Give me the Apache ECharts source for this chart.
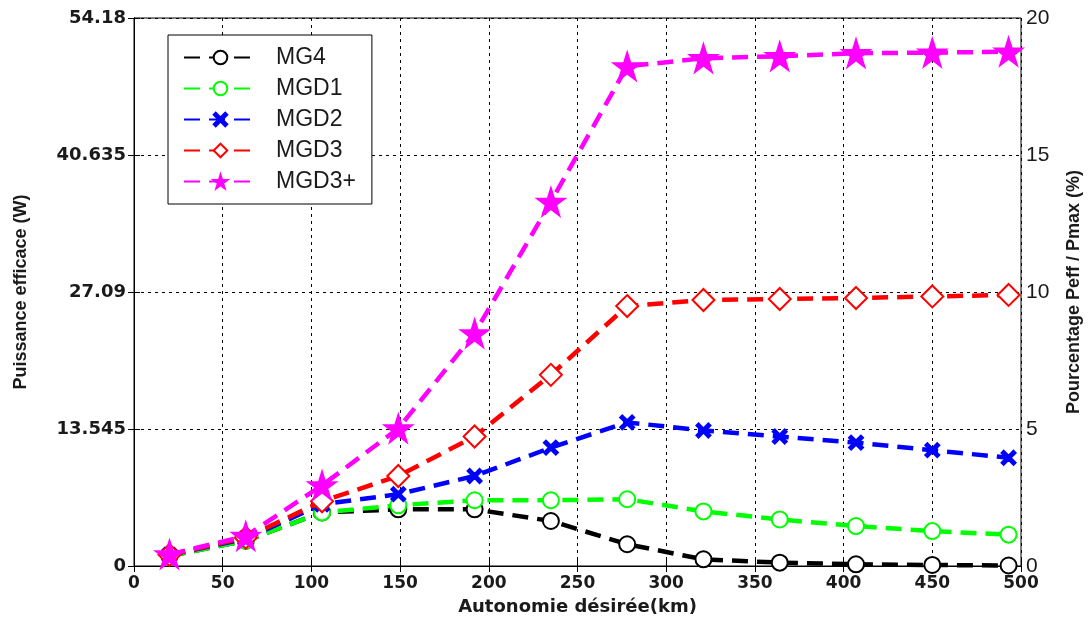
<!DOCTYPE html>
<html>
<head>
<meta charset="utf-8">
<script src="https://cdn.jsdelivr.net/npm/echarts@6/dist/echarts.min.js"></script>
<style>
html,body{margin:0;padding:0;background:#fff;}
#chart{width:1091px;height:621px;}
</style>
</head>
<body>
<div id="chart"></div>
<script>
// ---- data ----
var distances = [20, 63, 106, 149, 192, 235, 278, 321, 364, 407, 450, 493];
var MG4   = [1.0, 2.5, 5.3, 5.6, 5.6, 4.45, 2.15, 0.66, 0.33, 0.17, 0.1, 0.05];
var MGD1  = [1.0, 2.5, 5.3, 6.0, 6.5, 6.5, 6.6, 5.4, 4.6, 3.95, 3.45, 3.1];
var MGD2  = [1.1, 2.7, 6.1, 7.1, 8.9, 11.7, 14.2, 13.4, 12.8, 12.2, 11.45, 10.7];
var MGD3  = [1.1, 2.8, 6.4, 8.9, 12.8, 18.9, 25.7, 26.3, 26.4, 26.5, 26.65, 26.8];
var MGD3p = [1.15, 2.96, 7.97, 13.6, 23.0, 36.0, 49.4, 50.2, 50.4, 50.7, 50.75, 50.85];
var seriesNames = ['MG4', 'MGD1', 'MGD2', 'MGD3', 'MGD3+'];
var leftTickLabels = ['0', '13.545', '27.09', '40.635', '54.18'];
var rightTickLabels = ['0', '5', '10', '15', '20'];
var xTickLabels = ['0','50','100','150','200','250','300','350','400','450','500'];

// ---- chart ----
function pairs(arr){ return arr.map(function(v,i){ return [distances[i], v]; }); }
var star = 'path://M0,-10 L2.245,-3.09 L9.51,-3.09 L3.633,1.18 L5.878,8.09 L0,3.82 L-5.878,8.09 L-3.633,1.18 L-9.51,-3.09 L-2.245,-3.09 Z';
var cross = 'path://M1.5,0 L5,3.5 L8.5,0 L10,1.5 L6.5,5 L10,8.5 L8.5,10 L5,6.5 L1.5,10 L0,8.5 L3.5,5 L0,1.5 Z';
var dash = [16, 9];
var font = 'Liberation Sans, Arial, sans-serif';
var wideFont = 'DejaVu Sans, sans-serif';
var txt = '#1a1a1a';
var gridLine = {show:true, lineStyle:{color:'#000', type:[3,4], width:1}};

var chart = echarts.init(document.getElementById('chart'), null, {renderer:'canvas'});
function mk(name, data, color, symbol, size, bw){
  return {
    name: name, type:'line', data: pairs(data), xAxisIndex:0, yAxisIndex:0,
    symbol: symbol, symbolSize: size, showAllSymbol:true,
    lineStyle:{color:color, width:4.5, type:dash},
    itemStyle:{color:color, borderColor:color, borderWidth:bw},
    z: 3
  };
}
var option = {
  backgroundColor:'#fff',
  animation:false,
  grid:{left:134, right:70, top:18, bottom:54, show:true, borderColor:'#000', borderWidth:1},
  legend:{
    orient:'vertical', left:168, top:35,
    backgroundColor:'#fff', borderColor:'#000', borderWidth:1,
    padding:[11, 16, 11, 15], itemGap:8, itemWidth:73, itemHeight:17,
    textStyle:{fontFamily:font, fontSize:23, color:txt, padding:[0,0,0,14]},
    data: seriesNames
  },
  xAxis:[{
    type:'value', min:0, max:500, interval:50, position:'bottom',
    name:'Autonomie désirée(km)', nameLocation:'middle', nameGap:32,
    nameTextStyle:{fontFamily:wideFont, fontSize:18, fontWeight:'bold', color:txt},
    axisLine:{show:true, lineStyle:{color:'#000', width:1}},
    axisTick:{show:true, inside:true, length:6, lineStyle:{color:'#000'}},
    axisLabel:{fontFamily:wideFont, fontSize:17, fontWeight:'bold', color:txt, margin:9,
      formatter:function(v){ return xTickLabels[Math.round(v/50)]; }},
    splitLine: gridLine
  },{
    type:'value', min:0, max:500, interval:50, position:'top',
    axisLine:{show:true, lineStyle:{color:'#000', width:1}},
    axisTick:{show:true, inside:true, length:6, lineStyle:{color:'#000'}},
    axisLabel:{show:false}, splitLine:{show:false}
  }],
  yAxis:[{
    type:'value', min:0, max:54.18, interval:13.545, position:'left',
    name:'Puissance efficace (W)', nameLocation:'middle', nameGap:104, nameRotate:90,
    nameTextStyle:{fontFamily:font, fontSize:18, fontWeight:'bold', color:txt},
    axisLine:{show:true, lineStyle:{color:'#000', width:1}},
    axisTick:{show:true, inside:true, length:6, lineStyle:{color:'#000'}},
    axisLabel:{fontFamily:wideFont, fontSize:18, fontWeight:'bold', color:txt, margin:8,
      formatter:function(v){ return leftTickLabels[Math.round(v/13.545)]; }},
    splitLine: gridLine
  },{
    type:'value', min:0, max:20, interval:5, position:'right',
    name:'Pourcentage Peff / Pmax (%)', nameLocation:'middle', nameGap:44, nameRotate:90,
    nameTextStyle:{fontFamily:font, fontSize:18, fontWeight:'bold', color:txt},
    axisLine:{show:true, lineStyle:{color:'#000', width:1}},
    axisTick:{show:true, inside:true, length:6, lineStyle:{color:'#000'}},
    axisLabel:{fontFamily:font, fontSize:21, color:txt, margin:5,
      formatter:function(v){ return rightTickLabels[Math.round(v/5)]; }},
    splitLine:{show:false}
  }],
  series:[
    mk('MG4', MG4, '#000000', 'emptyCircle', 16, 4),
    mk('MGD1', MGD1, '#00ff00', 'emptyCircle', 16, 4),
    mk('MGD2', MGD2, '#0000ff', cross, 14, 2),
    mk('MGD3', MGD3, '#ff0000', 'emptyDiamond', 22, 4),
    mk('MGD3+', MGD3p, '#ff00ff', star, 27, 2)
  ]
};
chart.setOption(option);
</script>
</body>
</html>
